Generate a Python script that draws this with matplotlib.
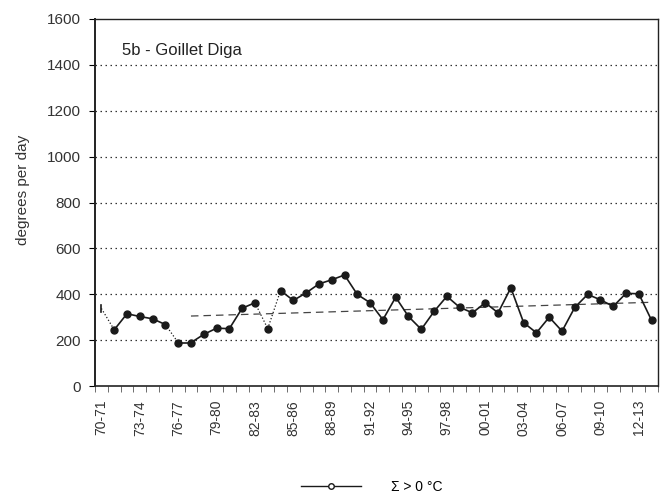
import matplotlib
matplotlib.use("Agg")
import matplotlib.pyplot as plt
from matplotlib.lines import Line2D
import numpy as np

plt.rcParams['font.family'] = ['Liberation Sans', 'DejaVu Sans']

seasons = ["70-71", "71-72", "72-73", "73-74", "74-75", "75-76", "76-77", "77-78",
           "78-79", "79-80", "80-81", "81-82", "82-83", "83-84", "84-85", "85-86",
           "86-87", "87-88", "88-89", "89-90", "90-91", "91-92", "92-93", "93-94",
           "94-95", "95-96", "96-97", "97-98", "98-99", "99-00", "00-01", "01-02",
           "02-03", "03-04", "04-05", "05-06", "06-07", "07-08", "08-09", "09-10",
           "10-11", "11-12", "12-13", "13-14"]
values = [338, 245, 315, 303, 293, 268, 189, 189, 225, 252, 250, 339, 363, 250,
          416, 373, 406, 445, 463, 484, 399, 363, 289, 387, 303, 247, 325, 391,
          343, 319, 363, 319, 428, 276, 232, 300, 239, 343, 399, 376, 347, 404,
          402, 286]
# segments drawn dotted in the original (gaps / estimated years)
dotted_after = [0, 5, 12, 13]
trend_start, trend_end = 7, 43
trend_values = [305, 365]
yticks = [0, 200, 400, 600, 800, 1000, 1200, 1400, 1600]
label_step = 3

fig = plt.figure(figsize=(6.67, 5.0), dpi=100)
ax = fig.add_axes([95/667, 1-386/500, (658-95)/667, (386-19)/500])

x = np.arange(len(values))
col = '#1a1a1a'
# connecting segments
for i in range(len(values) - 1):
    ls = ':' if i in dotted_after else '-'
    lw = 0.9 if i in dotted_after else 1.2
    ax.plot(x[i:i+2], values[i:i+2], color=col, lw=lw, ls=ls, zorder=3)
# markers (first year without marker)
ax.plot(x[1:], values[1:], ls='none', marker='o', ms=5, mfc=col, mec=col, zorder=4)
ax.plot([x[0], x[0]], [values[0] - 15, values[0] + 15], color=col, lw=1.2, zorder=4)

# trend line
ax.plot([trend_start, trend_end], trend_values, color='#444444', lw=0.9,
        ls=(0, (6, 4)), zorder=2)

ax.set_xlim(-0.5, len(values) - 0.5)
ax.set_ylim(0, 1600)
ax.set_yticks(yticks)
ax.set_yticklabels([str(v) for v in yticks], fontsize=11, color='#333333')
ax.set_xticks(x[::label_step])
ax.set_xticklabels(seasons[::label_step], rotation=90, fontsize=10, color='#333333')
ax.set_xticks(np.arange(-0.5, len(values)), minor=True)
ax.tick_params(axis='x', which='major', length=0, pad=10)
ax.tick_params(axis='x', which='minor', length=4, width=0.6, color='#555555', direction='out')
ax.tick_params(axis='y', length=4, width=0.8, direction='out', pad=6)

for v in yticks[1:-1]:
    ax.axhline(v, color='#333333', lw=0.9, ls=(0, (1.2, 2.8)), zorder=1)

for s in ax.spines.values():
    s.set_color('#222222')
    s.set_linewidth(1.0)
ax.spines['left'].set_linewidth(1.4)
ax.spines['bottom'].set_linewidth(1.2)

fig.text(122/667, 1-50/500, "5b - Goillet Diga", fontsize=12,
         color='#222222', va='center', ha='left')

fig.text(23/667, 1-190/500, "degrees per day", rotation=90, fontsize=11,
         color='#333333', va='center', ha='center')

handle = Line2D([], [], color=col, lw=1.0, marker='o', ms=4, mfc='white', mec=col)
fig.legend([handle], ["Σ > 0 °C"], loc='center', bbox_to_anchor=(372/667, 1-487/500),
           frameon=False, fontsize=10, handlelength=4.3, handletextpad=2.2)

fig.savefig("out.png", dpi=100)
